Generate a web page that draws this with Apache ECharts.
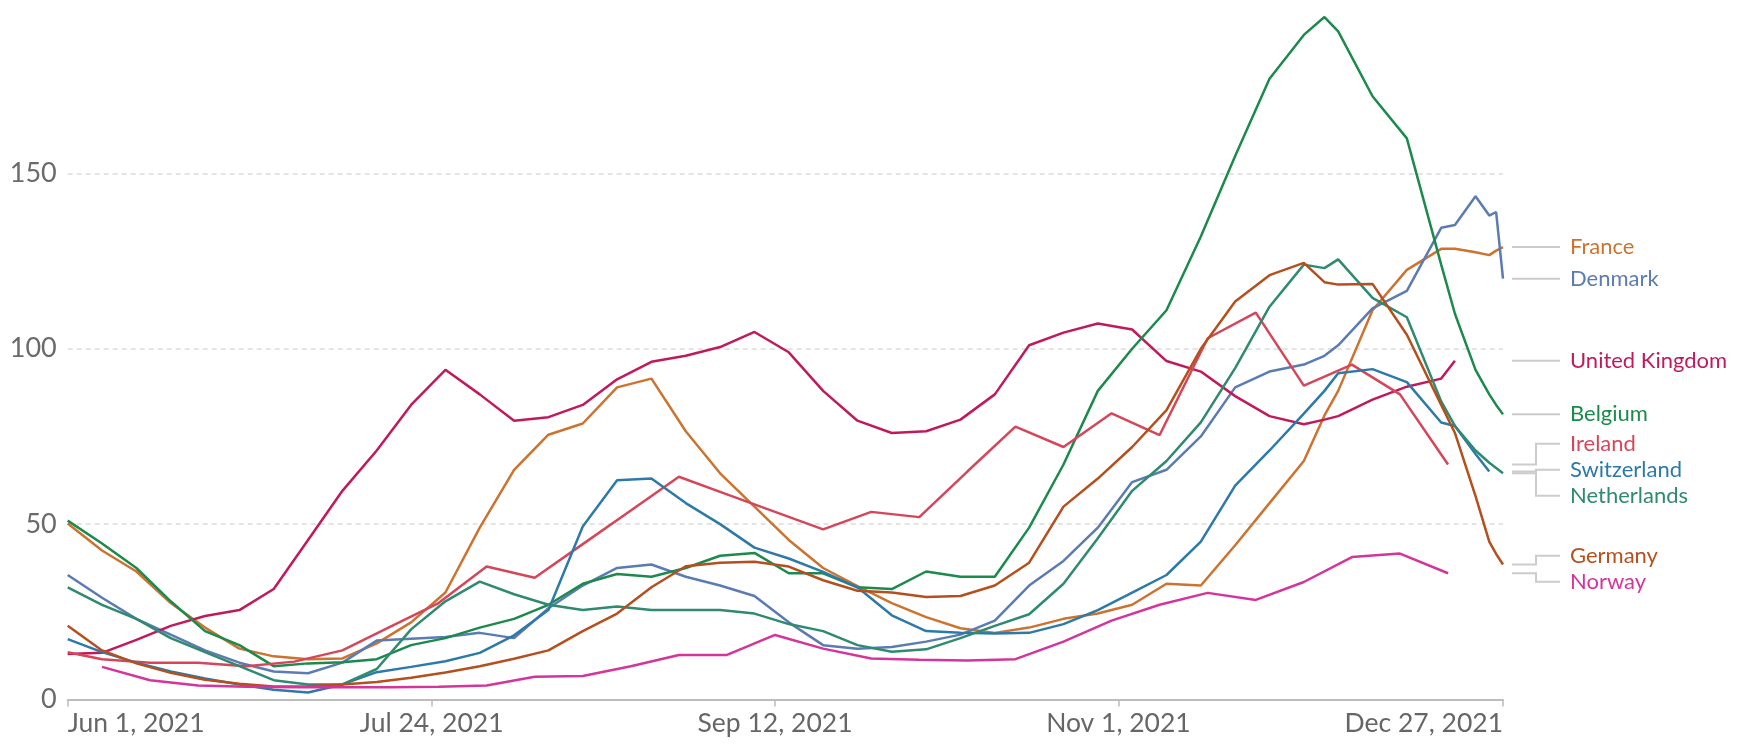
<!DOCTYPE html>
<html><head><meta charset="utf-8">
<script src="https://cdn.jsdelivr.net/npm/echarts@6/dist/echarts.min.js"></script>
<style>html,body{margin:0;padding:0;background:#fff}#c{width:1741px;height:746px}</style>
</head><body><div id="c"></div>
<script>
// ---- data ----
const dates5 = ['2021-06-01','2021-06-06','2021-06-11','2021-06-16','2021-06-21','2021-06-26','2021-07-01','2021-07-06','2021-07-11','2021-07-16','2021-07-21','2021-07-26','2021-07-31','2021-08-05','2021-08-10','2021-08-15','2021-08-20','2021-08-25','2021-08-30','2021-09-04','2021-09-09','2021-09-14','2021-09-19','2021-09-24','2021-09-29','2021-10-04','2021-10-09','2021-10-14','2021-10-19','2021-10-24','2021-10-29','2021-11-03','2021-11-08','2021-11-13','2021-11-18','2021-11-23','2021-11-28','2021-12-01','2021-12-03','2021-12-08','2021-12-13','2021-12-18','2021-12-20','2021-12-23','2021-12-25','2021-12-26','2021-12-27'];
const datesWeekly = ['2021-06-01','2021-06-06','2021-06-13','2021-06-20','2021-06-27','2021-07-04','2021-07-11','2021-07-18','2021-07-25','2021-08-01','2021-08-08','2021-08-15','2021-08-22','2021-08-29','2021-09-05','2021-09-12','2021-09-19','2021-09-26','2021-10-03','2021-10-10','2021-10-17','2021-10-24','2021-10-31','2021-11-07','2021-11-14','2021-11-21','2021-11-28','2021-12-05','2021-12-12','2021-12-19'];

const france = [50.2,42.5,36.5,27.5,20.5,14.5,12.3,11.5,11.7,16,22,30.5,49,65.5,75.5,78.7,89,91.5,76.5,64.5,55,45.5,37.5,32.3,27.5,23.5,20.3,19,20.5,23,24.5,27,33,32.5,44,56,68,81,88,111,122.5,128.5,128.5,127.5,126.7,128,129];
const denmark = [35.5,29,23,18.5,14,10.5,8,7.5,10.5,16.8,17.3,17.8,19,17.5,26,32.5,37.5,38.5,35,32.5,29.5,22,15.5,14.5,15,16.5,18.5,22.5,32.5,39.5,49,62,65.5,75,89,93.5,95.5,98,101,111.5,116.5,134.5,135.3,143.5,138,139,120];
const unitedKingdom = [13,13.3,17,21,23.8,25.5,31.5,45.5,59.5,71,84,94,87,79.5,80.5,84,91.3,96.3,98,100.5,104.8,99,88,79.5,76,76.5,79.8,87,101,104.6,107.2,105.5,96.5,93.5,86.5,80.8,78.5,79.8,80.8,85.5,89.2,91.5,96.6,null,null,null,null];
const belgium = [51,44.5,37.5,28,19.5,15.5,9.5,10.3,10.6,11.5,15.5,17.5,20.5,23,27,33,35.8,35,37.5,41,41.8,36,36,32,31.5,36.5,35,35,49,67,88,100,111,132,155,177,189.5,194.6,190.5,172,160,124,110,94,87,84,81.3];
const switzerland = [17.2,13.5,10.5,8,6,4.3,2.8,2,4.3,7.8,9.3,10.9,13.3,18.3,25.5,49.3,62.5,63,56,50,43.3,40.2,36.4,32,24,19.5,19,18.8,19,21.5,25.5,30.5,35.5,45,61,71,81.5,88,93,94.2,90.5,79,78,70,65,null,null];
const netherlands = [32,27,23,17.5,13.5,9.5,5.5,4.3,4.3,8.7,20,28,33.6,30,27,25.5,26.5,25.5,25.5,25.5,24.5,21.5,19.5,15.5,13.6,14.3,17.5,21,24.3,33,46,59.5,68,79,94.5,112,124,123,125.5,114.5,109,85,78,71,67.5,66,64.5];
const germany = [21,14,10.3,7.6,5.6,4.5,3.7,3.8,4.3,5,6.2,7.7,9.5,11.6,14,19.5,24.5,32,38,39,39.3,37.9,34,31,30.5,29.2,29.5,32.5,39,55,63,72,82.5,100,113.5,121,124.5,119,118.3,118.5,104,84,76,58,45,41.5,38.5];
const ireland = [13.5,11.5,10.5,10.5,9.5,10.8,14,20.8,27.5,37.9,34.7,44.3,53.9,63.5,58.5,53.5,48.5,53.5,52,65,77.8,72,81.6,75.4,103,110.3,89.5,95.5,87,67];
const norway = [null,9.3,5.5,4,3.6,3.5,3.5,3.5,3.6,4,6.5,6.7,9.5,12.7,12.7,18.4,14.5,11.7,11.3,11.1,11.5,16.5,22.5,27,30.4,28.4,33.5,40.6,41.6,36];

const xTickDates = ['2021-06-01','2021-07-24','2021-09-12','2021-11-01','2021-12-27'];
const yTickValues = [0,50,100,150];
const monthNames = ['Jan','Feb','Mar','Apr','May','Jun','Jul','Aug','Sep','Oct','Nov','Dec'];

const seriesDefs = [
  {name:'France', dates:dates5, values:france, color:'#cc7330'},
  {name:'Denmark', dates:dates5, values:denmark, color:'#5b7bb3'},
  {name:'United Kingdom', dates:dates5, values:unitedKingdom, color:'#c01a5d'},
  {name:'Belgium', dates:dates5, values:belgium, color:'#1b8a4c'},
  {name:'Ireland', dates:datesWeekly, values:ireland, color:'#d6465a'},
  {name:'Switzerland', dates:dates5, values:switzerland, color:'#2d7aa8'},
  {name:'Netherlands', dates:dates5, values:netherlands, color:'#2f8a70'},
  {name:'Germany', dates:dates5, values:germany, color:'#b5501e'},
  {name:'Norway', dates:datesWeekly, values:norway, color:'#d4359b'}
];

// ---- helpers ----
function parseD(s){const p=s.split('-');return new Date(+p[0],+p[1]-1,+p[2]).getTime();}
function pairs(ds,vs){const out=[];for(let i=0;i<ds.length;i++){if(vs[i]!=null)out.push([parseD(ds[i]),vs[i]]);}return out;}

const FONT='Lato';
const chart = echarts.init(document.getElementById('c'), null, {renderer:'canvas'});
const option = {
  animation:false,
  backgroundColor:'#ffffff',
  grid:{left:67.7,right:238,top:10,bottom:46.5,containLabel:false,outerBoundsMode:'none'},
  xAxis:{
    type:'value',
    min:parseD('2021-06-01'), max:parseD('2021-12-27'),
    axisLine:{show:true,lineStyle:{color:'#bcbcbc',width:2}},
    axisTick:{show:true,customValues:xTickDates.map(parseD),length:7,lineStyle:{color:'#bcbcbc',width:1.5}},
    axisLabel:{customValues:xTickDates.map(parseD),fontSize:26.5,fontFamily:FONT,color:'#666',margin:10,
      alignMinLabel:'left',alignMaxLabel:'right',
      formatter:function(v){const d=new Date(v);return monthNames[d.getMonth()]+' '+d.getDate()+', '+d.getFullYear();}},
    splitLine:{show:false}
  },
  yAxis:{
    type:'value',min:0,max:196.6,
    axisLine:{show:false},
    axisTick:{show:false,customValues:yTickValues},
    axisLabel:{customValues:yTickValues,fontSize:27,fontFamily:FONT,color:'#6a6a6a',margin:11},
    splitLine:{show:true,lineStyle:{color:'#dcdcdc',width:1.5,type:[5,4]}}
  },
  series: seriesDefs.map(s=>({
    type:'line',name:s.name,data:pairs(s.dates,s.values),showSymbol:false,symbol:'none',
    lineStyle:{width:2.5,color:s.color},itemStyle:{color:s.color},silent:true
  }))
};
chart.setOption(option);

// ---- right-side labels with connectors ----
const GAP=26;
const ends = seriesDefs.map(s=>{const d=pairs(s.dates,s.values);const last=d[d.length-1];
  const px=chart.convertToPixel({xAxisIndex:0,yAxisIndex:0},last);return {name:s.name,color:s.color,y:px[1]};});
ends.sort((a,b)=>a.y-b.y);
let groups = ends.map(e=>({items:[e],c:e.y}));
let changed=true;
while(changed){changed=false;
  for(let i=0;i<groups.length-1;i++){
    const g=groups[i],h=groups[i+1];
    const gB=g.c+(g.items.length-1)/2*GAP, hT=h.c-(h.items.length-1)/2*GAP;
    if(hT-gB<GAP){const items=g.items.concat(h.items);const c=items.reduce((s,e)=>s+e.y,0)/items.length;
      groups.splice(i,2,{items:items,c:c});changed=true;break;}
  }
}
const graphics=[];
const x0=1512,xe=1536,x1=1560,xt=1570;
groups.forEach(g=>{g.items.forEach((e,i)=>{
  const ly=g.c-(g.items.length-1)/2*GAP+i*GAP;
  graphics.push({type:'polyline',silent:true,shape:{points:[[x0,e.y],[xe,e.y],[xe,ly],[x1,ly]]},
    style:{stroke:'#cccccc',lineWidth:2,fill:null}});
  graphics.push({type:'text',silent:true,x:xt,y:ly,style:{text:e.name,fill:e.color,fontSize:22,fontFamily:FONT,verticalAlign:'middle',align:'left'}});
});});
chart.setOption({graphic:graphics});
</script>
</body></html>
